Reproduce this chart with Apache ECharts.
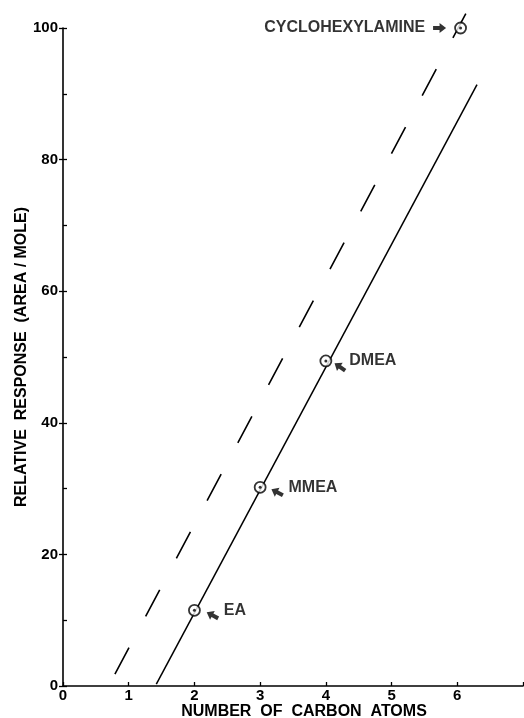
<!DOCTYPE html>
<html>
<head>
<meta charset="utf-8">
<script src="https://cdn.jsdelivr.net/npm/echarts@6/dist/echarts.min.js"></script>
<style>
  html, body { margin: 0; padding: 0; background: #fff; }
  #chart { width: 524px; height: 718px; }
</style>
</head>
<body>
<div id="chart"></div>
<script>
// measured points
const compounds = ['EA', 'MMEA', 'DMEA', 'CYCLOHEXYLAMINE']
const carbonAtoms = [2, 3, 4, 6.05]
const response = [11.5, 30.2, 49.4, 100]

// fitted lines (end points)
const solidX = [1.42, 6.3]
const solidY = [0.3, 91.4]
const dashedX = [0.79, 6.13]
const dashedY = [1.8, 102.2]

const xTicks = [0, 1, 2, 3, 4, 5, 6]
const yTicks = [0, 20, 40, 60, 80, 100]

// label / arrow placement per point (pixels)
const labelSide = ['right', 'right', 'right', 'left']
const labelDist = [23, 22, 17, 29]
const arrowOffset = [[18, 5], [17, 5], [14, 6], [-21, 0]]
const arrowRotate = [-28, -28, -35, 180]

const font = '"Liberation Sans", Arial, sans-serif'
const arrowPath = 'path://M0,5 L6,0 L6,3 L12,3 L12,7 L6,7 L6,10 Z'

const pts = carbonAtoms.map((x, i) => [x, response[i]])

var chart = echarts.init(document.getElementById('chart'))
chart.setOption({
  animation: false,
  grid: { left: 63, right: 1, top: 28, bottom: 32, outerBoundsMode: 'none', containLabel: false },
  xAxis: {
    type: 'value',
    min: 0,
    max: 7,
    interval: 1,
    name: 'NUMBER  OF  CARBON  ATOMS',
    nameLocation: 'middle',
    nameGap: 18,
    nameMoveOverlap: false,
    nameTextStyle: { fontFamily: font, fontWeight: 'bold', fontSize: 16, color: '#000', padding: [0, 0, 0, 22] },
    axisLine: { lineStyle: { color: '#000', width: 1.6 } },
    axisTick: { inside: true, length: 4, lineStyle: { color: '#000', width: 1.3 } },
    axisLabel: {
      margin: 2,
      fontFamily: font, fontSize: 15, fontWeight: 'bold', color: '#000',
      formatter: v => (xTicks.indexOf(v) >= 0 ? String(v) : '')
    },
    splitLine: { show: false }
  },
  yAxis: [
    {
      type: 'value',
      min: 0,
      max: 100,
      interval: 20,
      name: 'RELATIVE  RESPONSE  (AREA / MOLE)',
      nameLocation: 'middle',
      nameGap: 33,
      nameMoveOverlap: false,
      nameTextStyle: { fontFamily: font, fontWeight: 'bold', fontSize: 16, color: '#000' },
      axisLine: { show: true, lineStyle: { color: '#000', width: 1.6 } },
      axisTick: { show: true, length: 4, lineStyle: { color: '#000', width: 1.3 } },
      axisLabel: {
        margin: 5,
        fontFamily: font, fontSize: 15, fontWeight: 'bold', color: '#000',
        formatter: v => (yTicks.indexOf(v) >= 0 ? String(v) : '')
      },
      splitLine: { show: false }
    },
    {
      type: 'value',
      min: 0,
      max: 100,
      interval: 10,
      position: 'left',
      axisLine: { show: false },
      axisTick: { show: true, inside: true, length: 4, lineStyle: { color: '#000', width: 1.3 } },
      axisLabel: { show: false },
      splitLine: { show: false }
    }
  ],
  series: [
    {
      type: 'line',
      data: solidX.map((x, i) => [x, solidY[i]]),
      symbol: 'none',
      clip: false,
      lineStyle: { color: '#000', width: 1.5 }
    },
    {
      type: 'line',
      data: dashedX.map((x, i) => [x, dashedY[i]]),
      symbol: 'none',
      clip: false,
      lineStyle: { color: '#000', width: 1.6, type: [30, 35.5] }
    },
    {
      type: 'scatter',
      data: pts.map((p, i) => ({
        value: p,
        label: {
          show: true,
          position: labelSide[i],
          distance: labelDist[i],
          formatter: compounds[i]
        }
      })),
      symbol: 'circle',
      symbolSize: 11,
      clip: false,
      z: 5,
      itemStyle: { color: '#fff', borderColor: '#000', borderWidth: 1.8 },
      label: { fontFamily: font, fontWeight: 'bold', fontSize: 16, color: '#000' }
    },
    {
      type: 'scatter',
      data: pts,
      symbol: 'circle',
      symbolSize: 3,
      clip: false,
      z: 6,
      itemStyle: { color: '#000' }
    },
    {
      type: 'scatter',
      data: pts.map((p, i) => ({
        value: p,
        symbolOffset: arrowOffset[i],
        symbolRotate: arrowRotate[i]
      })),
      symbol: arrowPath,
      symbolSize: [13, 10],
      clip: false,
      z: 6,
      itemStyle: { color: '#000' }
    }
  ]
})
</script>
</body>
</html>
